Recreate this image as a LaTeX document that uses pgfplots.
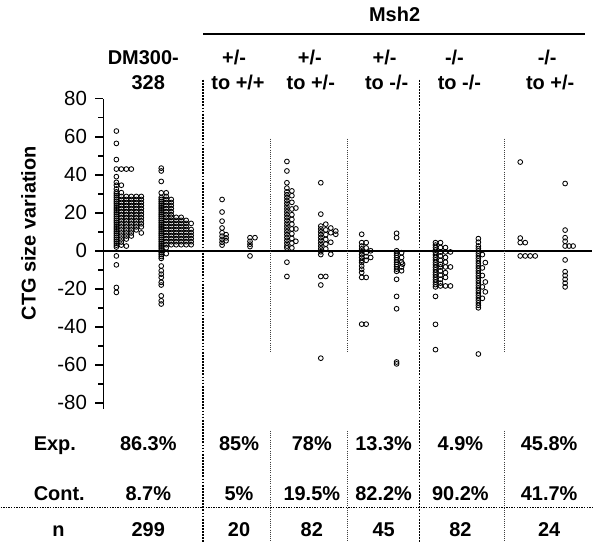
\documentclass[border=0pt]{standalone}
\usepackage{fontspec}
\setmainfont{Liberation Sans}
\usepackage{pgfplots}
\usepackage{pgfplotstable}
\pgfplotsset{compat=1.18}
\newcommand{\tf}{\bfseries\fontsize{20}{24}\selectfont}

% DM300-328 (x = pixel offset from the y axis, y = CTG size variation)
\pgfplotstableread[row sep=\\]{
x y\\
13 63\\ 13 56.5\\ 13 48\\ 13 43\\ 13 39\\ 13 36\\ 13 34.5\\ 13 32.5\\ 13 31\\ 13 30\\ 13 29\\ 13 28\\ 13 27\\ 13 26\\ 13 25\\ 13 24\\ 13 23\\ 13 22\\ 13 21\\ 13 20\\ 13 19\\ 13 18\\ 13 17\\ 13 16\\ 13 15\\ 13 14\\ 13 13\\ 13 12\\ 13 11\\ 13 10\\ 13 9\\ 13 8\\ 13 7\\ 13 6\\ 13 5\\ 13 4\\ 13 3\\ 13 2\\ 13 -2.7\\ 13 -7.4\\ 13 -19.3\\ 13 -21.9\\
18 43\\ 18 34.5\\ 18 30.6\\ 18 28.6\\ 18 27\\ 18 25.4\\ 18 23.8\\ 18 22.2\\ 18 20.6\\ 18 19\\ 18 17.4\\ 18 15.8\\ 18 14.2\\ 18 12.6\\ 18 11\\ 18 9.4\\ 18 7.8\\ 18 6.2\\ 18 4.6\\ 18 3\\
23 43\\ 23 28.6\\ 23 27\\ 23 25.4\\ 23 23.8\\ 23 22.2\\ 23 20.6\\ 23 19\\ 23 17.4\\ 23 15.8\\ 23 14.2\\ 23 12.6\\ 23 11\\ 23 9.4\\ 23 7.8\\ 23 6.2\\ 23 2.5\\
28 43\\ 28 28.6\\ 28 27\\ 28 25.4\\ 28 23.8\\ 28 22.2\\ 28 20.6\\ 28 19\\ 28 17.4\\ 28 15.8\\ 28 14.2\\ 28 12.6\\ 28 11\\ 28 9.4\\ 28 7.8\\
33 28.6\\ 33 27\\ 33 25.4\\ 33 23.8\\ 33 22.2\\ 33 20.6\\ 33 19\\ 33 17.4\\ 33 15.8\\ 33 14.2\\ 33 12.6\\ 33 11\\
38 28.6\\ 38 27\\ 38 25.4\\ 38 23.8\\ 38 22.2\\ 38 20.6\\ 38 19\\ 38 17.4\\ 38 15.8\\ 38 14.2\\ 38 12.6\\ 38 9.4\\
58 43.5\\ 58 42\\ 58 36.5\\ 58 30.5\\ 58 28\\ 58 27\\ 58 26\\ 58 25\\ 58 24\\ 58 23\\ 58 22\\ 58 21\\ 58 20\\ 58 19\\ 58 18\\ 58 17\\ 58 16\\ 58 15\\ 58 14\\ 58 13\\ 58 12\\ 58 11\\ 58 10\\ 58 9\\ 58 8\\ 58 7\\ 58 6\\ 58 5\\ 58 4\\ 58 3\\ 58 2\\ 58 1\\ 58 0\\ 58 -1\\ 58 -2\\ 58 -3\\ 58 -4\\ 58 -8\\ 58 -10.5\\ 58 -12.3\\ 58 -14\\ 58 -16.6\\ 58 -18\\ 58 -23.7\\ 58 -26.3\\ 58 -28\\
63 30.5\\ 63 28.6\\ 63 27\\ 63 25.4\\ 63 23.8\\ 63 22.2\\ 63 20.6\\ 63 19\\ 63 17.6\\ 63 16\\ 63 14.4\\ 63 12.8\\ 63 11.2\\ 63 9.6\\ 63 8\\ 63 6.4\\ 63 4.8\\ 63 3.2\\ 63 1.6\\ 63 -1.5\\
68 27\\ 68 25.4\\ 68 23.8\\ 68 22.2\\ 68 20.6\\ 68 19\\ 68 17.6\\ 68 16\\ 68 14.4\\ 68 12.8\\ 68 11.2\\ 68 9.6\\ 68 8\\ 68 6.4\\ 68 4.8\\ 68 3.2\\
73 17.6\\ 73 16\\ 73 14.4\\ 73 12.8\\ 73 11.2\\ 73 9.6\\ 73 8\\ 73 6.4\\ 73 4.8\\ 73 3.2\\
78 17.6\\ 78 16\\ 78 14.4\\ 78 12.8\\ 78 11.2\\ 78 9.6\\ 78 8\\ 78 6.4\\ 78 4.8\\ 78 3.2\\
83 16\\ 83 14.4\\ 83 12.8\\ 83 11.2\\ 83 9.6\\ 83 8\\ 83 6.4\\ 83 4.8\\ 83 3.2\\
88 14.4\\ 88 11.2\\ 88 9.6\\ 88 8\\ 88 6.4\\ 88 4.8\\ 88 3.2\\
}\dm

% +/- to +/+
\pgfplotstableread[row sep=\\]{
x y\\
119 27\\ 119 20.4\\ 119 15.6\\ 119 12\\ 119 9.5\\ 119 7.7\\ 119 6\\ 119 4.5\\ 119 3\\ 123 8.5\\ 123 6.8\\ 123 5.3\\
147 6.9\\ 147 5\\ 147 3.5\\ 147 2.2\\ 147 -2.7\\ 152 6.9\\
}\ga

% +/- to +/-
\pgfplotstableread[row sep=\\]{
x y\\
184 47\\ 184 42\\ 184 35.8\\ 184 33\\ 184 31\\ 184 29.5\\ 184 28\\ 184 26.5\\ 184 25\\ 184 23.5\\ 184 22\\ 184 20.5\\ 184 19\\ 184 17.5\\ 184 16\\ 184 14.5\\ 184 13\\ 184 11.5\\ 184 10\\ 184 8.5\\ 184 7\\ 184 5.5\\ 184 4\\ 184 2.5\\ 184 1.5\\ 184 -6\\ 184 -13.5\\
189 31.5\\ 189 29\\ 189 25.5\\ 189 22\\ 189 19\\ 189 16.5\\ 189 14\\ 189 11.5\\ 189 9\\ 189 6.5\\ 189 4\\ 189 1.5\\
193 22.5\\ 193 11.5\\ 193 5\\
218 35.8\\ 218 19.3\\ 218 13\\ 218 11.5\\ 218 10\\ 218 8.5\\ 218 7\\ 218 5.5\\ 218 4\\ 218 2.5\\ 218 1\\ 218 -0.5\\ 218 -2\\ 218 -13.5\\ 218 -18\\ 218 -56.5\\
223 14\\ 223 11\\ 223 8.5\\ 223 6\\ 223 3.5\\ 223 1\\ 223 -13.5\\
228 12\\ 228 9.5\\ 228 4.5\\ 228 -1.8\\ 233 10.4\\ 233 8.7\\
}\gb

% +/- to -/-
\pgfplotstableread[row sep=\\]{
x y\\
259 8.7\\ 259 4.3\\ 259 2.5\\ 259 1\\ 259 -0.5\\ 259 -2\\ 259 -3.5\\ 259 -5\\ 259 -6.2\\ 259 -8\\ 259 -9.7\\ 259 -11.4\\ 259 -14\\ 259 -38.6\\
263.5 4.3\\ 263.5 1.5\\ 263.5 -1\\ 263.5 -3\\ 263.5 -5\\ 263.5 -14\\ 263.5 -38.6\\ 268 0\\ 268 -3.5\\
294 9.2\\ 294 6.9\\ 294 0\\ 294 -1.2\\ 294 -2.4\\ 294 -3.6\\ 294 -4.8\\ 294 -6\\ 294 -7.2\\ 294 -8.4\\ 294 -9.6\\ 294 -10.8\\ 294 -15\\ 294 -24\\ 294 -30.5\\ 294 -58.5\\ 294 -59.5\\
299 -1\\ 299 -3.5\\ 299 -6\\ 299 -8.5\\ 299 -10.5\\ 300 -7\\
}\gc

% -/- to -/-
\pgfplotstableread[row sep=\\]{
x y\\
333 4.3\\ 333 3\\ 333 1.7\\ 333 0.4\\ 333 -0.9\\ 333 -2.2\\ 333 -3.5\\ 333 -4.8\\ 333 -6.1\\ 333 -7.4\\ 333 -8.7\\ 333 -10\\ 333 -11.3\\ 333 -12.6\\ 333 -13.9\\ 333 -15.2\\ 333 -16.5\\ 333 -17.8\\ 333 -19\\ 333 -24\\ 333 -38.7\\ 333 -52\\
338 4.3\\ 338 1.7\\ 338 -0.6\\ 338 -2.7\\ 338 -5\\ 338 -7.2\\ 338 -8.5\\ 338 -10.6\\ 338 -12.8\\ 338 -15\\ 338 -17\\ 338 -18.5\\
343 1.7\\ 343 -0.6\\ 343 -3.5\\ 343 -6\\ 343 -8.5\\ 343 -11.5\\ 343 -14\\ 343 -18.5\\
348 -0.6\\ 348 -8.5\\ 348 -18.5\\
376 6.4\\ 376 4.5\\ 376 2.5\\ 376 1.2\\ 376 -0.1\\ 376 -1.4\\ 376 -2.7\\ 376 -4\\ 376 -5.3\\ 376 -6.6\\ 376 -7.9\\ 376 -9.2\\ 376 -10.5\\ 376 -11.8\\ 376 -13.1\\ 376 -14.4\\ 376 -15.7\\ 376 -17\\ 376 -18.3\\ 376 -19.6\\ 376 -20.9\\ 376 -22.2\\ 376 -23.5\\ 376 -24.8\\ 376 -26.1\\ 376 -27.4\\ 376 -28.7\\ 376 -30\\ 376 -54.3\\
380 -2\\ 380 -9\\ 380 -13\\ 380 -19\\ 380 -25\\ 383 -6.2\\ 383 -16.4\\ 383 -21.6\\
}\gd

% -/- to +/-
\pgfplotstableread[row sep=\\]{
x y\\
418 46.7\\ 418 6.7\\ 418 4.3\\ 418 -2.7\\ 423 4.3\\ 423 -2.7\\ 428 -2.7\\ 433 -2.7\\
463 35.4\\ 463 10.9\\ 463 6.9\\ 463 5\\ 463 2.5\\ 463 -4.8\\ 463 -11\\ 463 -13\\ 463 -15\\ 463 -17\\ 463 -19\\ 467 2.5\\ 471 2.5\\
}\ge

\tikzset{thickdot/.style={line width=1.8pt, dash pattern=on 1.8pt off 1.3pt},
         thindot/.style={line width=1pt, dash pattern=on 1pt off 1.2pt, black!75}}

\begin{document}
\begin{tikzpicture}
\begin{axis}[
  x=1pt, y=1.906pt,
  xmin=0, xmax=490, ymin=-83, ymax=80,
  axis x line=none, axis y line=left,
  axis line style={-, line width=1.7pt},
  every outer y axis line/.append style={-},
  clip=false,
  ytick={-80,-60,-40,-20,0,20,40,60,80},
  yticklabels={-80,-60,-40,-20,0,20,40,60,80},
  minor ytick={-70,-50,-30,-10,10,30,50,70},
  tick align=outside,
  major tick length=8pt, minor tick length=5pt,
  every tick/.style={black, line width=1.5pt},
  yticklabel style={font=\fontsize{20.5}{24}\selectfont, anchor=east, xshift=-5pt},
]
% invisible frame for the full figure
\path (axis cs:-103,131.95) rectangle (axis cs:490,-153.47);

\addplot[line width=1.9pt, black] coordinates {(0,0) (490,0)};

\pgfplotsset{dotstyle/.style={only marks, mark=o, mark size=2.4pt, black, mark options={line width=0.85pt}}}
\addplot[dotstyle] table {\dm};
\addplot[dotstyle] table {\ga};
\addplot[dotstyle] table {\gb};
\addplot[dotstyle] table {\gc};
\addplot[dotstyle] table {\gd};
\addplot[dotstyle] table {\ge};

% separators
\draw[thickdot] (axis cs:100,90) -- (axis cs:100,-153.47);
\draw[thickdot] (axis cs:317,90) -- (axis cs:317,-153.47);
\draw[thindot] (axis cs:168,59) -- (axis cs:168,-53.3);
\draw[thindot] (axis cs:168,-94.7) -- (axis cs:168,-153.47);
\draw[thindot] (axis cs:245,59) -- (axis cs:245,-53.3);
\draw[thindot] (axis cs:245,-94.7) -- (axis cs:245,-153.47);
\draw[thindot] (axis cs:402,59) -- (axis cs:402,-53.3);
\draw[thindot] (axis cs:402,-94.7) -- (axis cs:402,-153.47);
\draw[line width=1.4pt, dash pattern=on 1.4pt off 1.2pt] (axis cs:-103,-135.1) -- (axis cs:490,-135.1);
\draw[line width=1.8pt] (axis cs:100,114.1) -- (axis cs:483,114.1);

% header
\node[font=\tf, anchor=base] at (axis cs:292,120.4) {Msh2};
\node[font=\tf, anchor=base] at (axis cs:40,97.8) {DM300-};
\node[font=\tf, anchor=base] at (axis cs:45,84.7) {328};
\node[font=\tf, anchor=base] at (axis cs:131,97.8) {+/-};
\node[font=\tf, anchor=base] at (axis cs:135,84.7) {to +/+};
\node[font=\tf, anchor=base] at (axis cs:207,97.8) {+/-};
\node[font=\tf, anchor=base] at (axis cs:208,84.7) {to +/-};
\node[font=\tf, anchor=base] at (axis cs:282,97.8) {+/-};
\node[font=\tf, anchor=base] at (axis cs:284,84.7) {to -/-};
\node[font=\tf, anchor=base] at (axis cs:352,97.8) {-/-};
\node[font=\tf, anchor=base] at (axis cs:357,84.7) {to -/-};
\node[font=\tf, anchor=base] at (axis cs:445,97.8) {-/-};
\node[font=\tf, anchor=base] at (axis cs:448,84.7) {to +/-};

% y label
\node[font=\tf, rotate=90] at (axis cs:-75,9.2) {CTG size variation};

% table
\node[font=\tf, anchor=base west, inner sep=0pt] at (axis cs:-70,-105.2) {Exp.};
\node[font=\tf, anchor=base west, inner sep=0pt] at (axis cs:-70,-131.4) {Cont.};
\node[font=\tf, anchor=base] at (axis cs:-45,-150.3) {n};

\node[font=\tf, anchor=base] at (axis cs:45,-105.2) {86.3\%};
\node[font=\tf, anchor=base] at (axis cs:45,-131.4) {8.7\%};
\node[font=\tf, anchor=base] at (axis cs:45,-150.3) {299};
\node[font=\tf, anchor=base] at (axis cs:136,-105.2) {85\%};
\node[font=\tf, anchor=base] at (axis cs:136,-131.4) {5\%};
\node[font=\tf, anchor=base] at (axis cs:136,-150.3) {20};
\node[font=\tf, anchor=base] at (axis cs:209,-105.2) {78\%};
\node[font=\tf, anchor=base] at (axis cs:209,-131.4) {19.5\%};
\node[font=\tf, anchor=base] at (axis cs:209,-150.3) {82};
\node[font=\tf, anchor=base] at (axis cs:281,-105.2) {13.3\%};
\node[font=\tf, anchor=base] at (axis cs:281,-131.4) {82.2\%};
\node[font=\tf, anchor=base] at (axis cs:281,-150.3) {45};
\node[font=\tf, anchor=base] at (axis cs:358,-105.2) {4.9\%};
\node[font=\tf, anchor=base] at (axis cs:358,-131.4) {90.2\%};
\node[font=\tf, anchor=base] at (axis cs:358,-150.3) {82};
\node[font=\tf, anchor=base] at (axis cs:447,-105.2) {45.8\%};
\node[font=\tf, anchor=base] at (axis cs:447,-131.4) {41.7\%};
\node[font=\tf, anchor=base] at (axis cs:447,-150.3) {24};
\end{axis}
\end{tikzpicture}
\end{document}
